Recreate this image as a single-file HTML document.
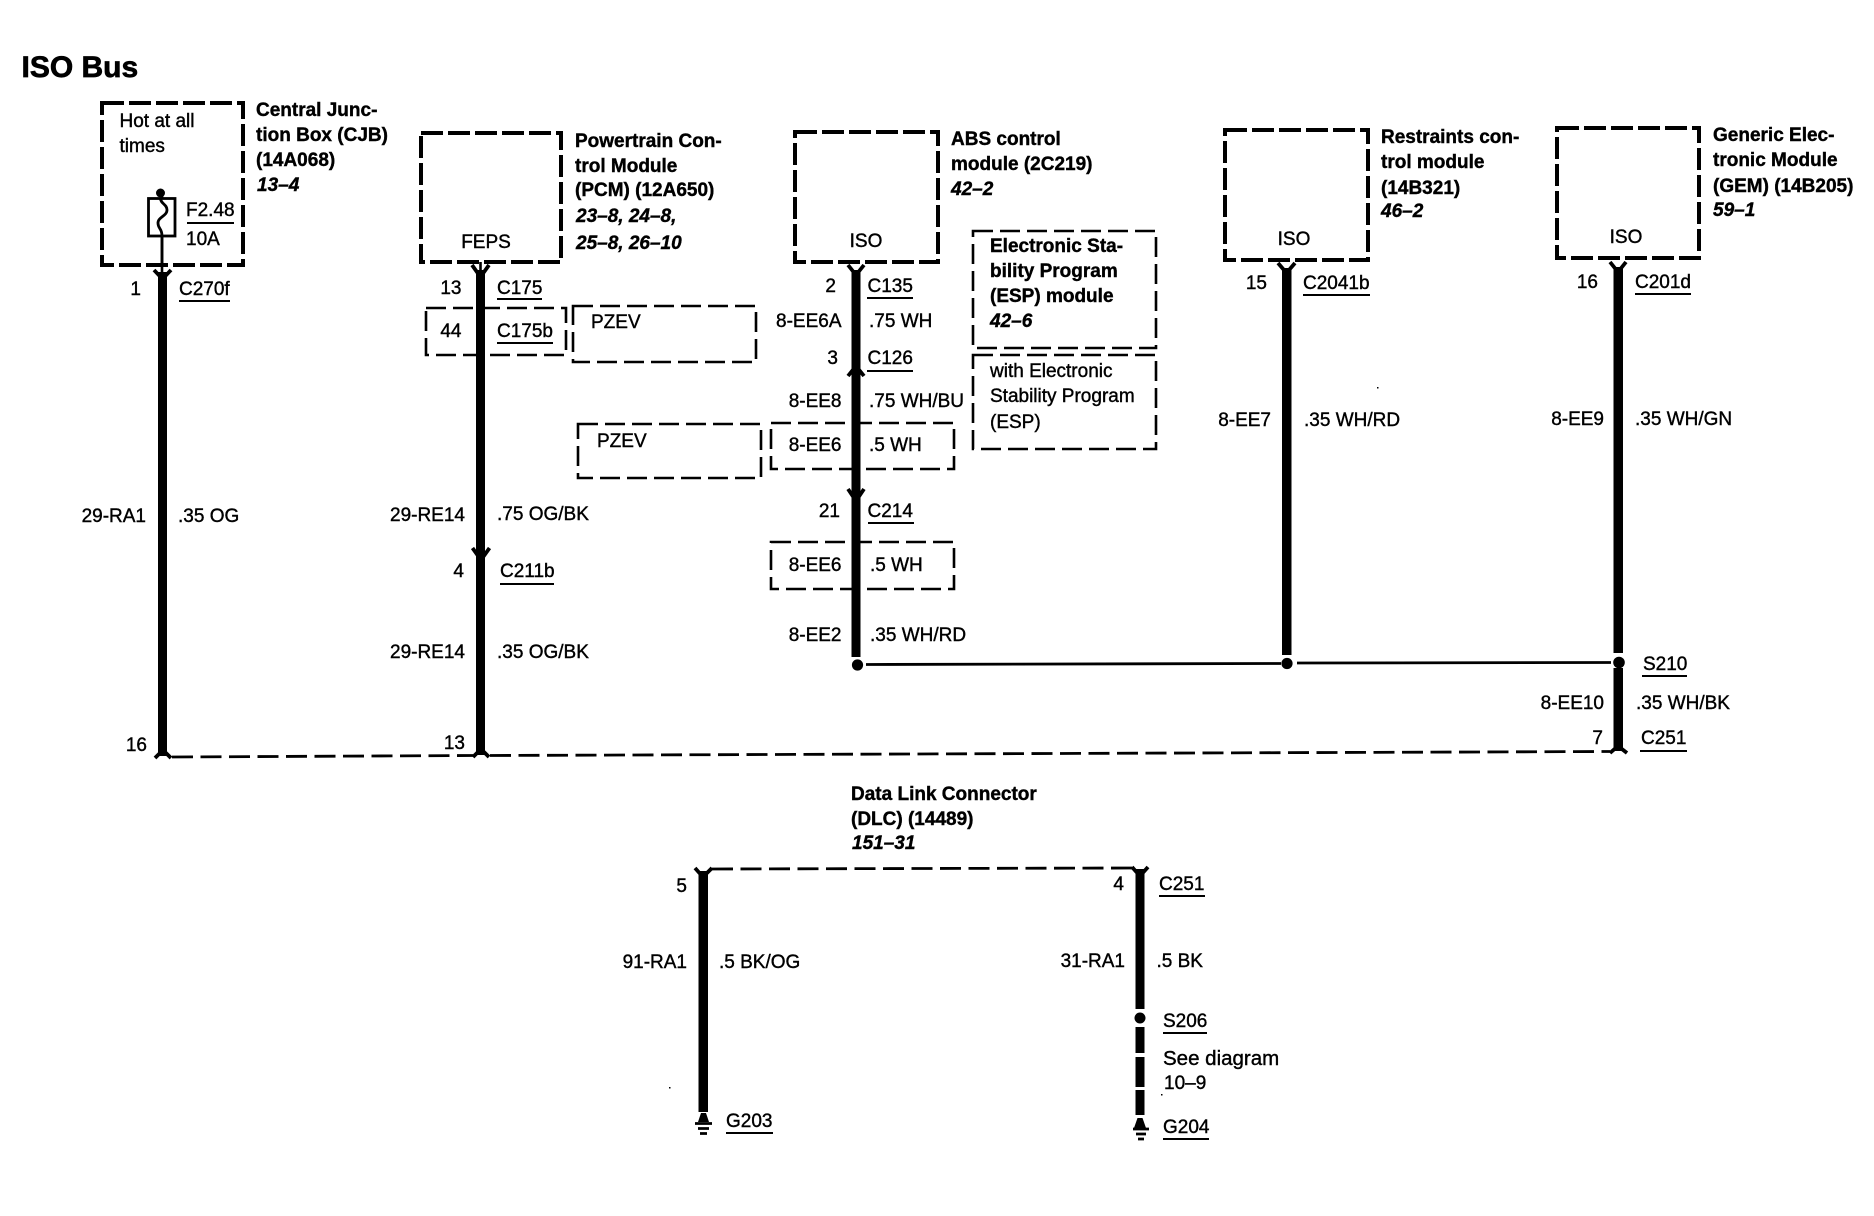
<!DOCTYPE html>
<html>
<head>
<meta charset="utf-8">
<title>ISO Bus</title>
<style>
html,body{margin:0;padding:0;background:#fff;width:1874px;height:1216px;overflow:hidden}
svg{display:block}
text{font-family:"Liberation Sans",sans-serif;fill:#000;stroke:#000;stroke-width:.4px}
.r{font-size:19px}
.b{font-size:19px;font-weight:bold}
.i{font-size:19px;font-weight:bold;font-style:italic}
.e{text-anchor:end}
.m{text-anchor:middle}
.t{font-size:30px;font-weight:bold;stroke-width:.7px}
.thick{fill:none;stroke:#000;stroke-width:4;stroke-dasharray:22 5}
.thin{fill:none;stroke:#000;stroke-width:2.6;stroke-dasharray:20 7}
.ul{stroke:#000;stroke-width:2;fill:none}
.ch{fill:none;stroke:#000;stroke-width:3.8}
</style>
</head>
<body>
<svg xmlns="http://www.w3.org/2000/svg" width="1874" height="1216" viewBox="0 0 1874 1216">
<rect width="1874" height="1216" fill="#fff"/>
<text class="t" x="21.5" y="77">ISO Bus</text>

<!-- module boxes -->
<rect class="thick" x="102" y="103" width="141" height="162"/>
<rect class="thick" x="421" y="133" width="140" height="129"/>
<rect class="thick" x="795" y="132" width="143" height="130"/>
<rect class="thick" x="1225" y="130" width="143" height="130"/>
<rect class="thick" x="1557" y="128" width="142" height="130"/>

<!-- option boxes -->
<rect class="thin" x="426" y="308" width="140" height="47"/>
<rect class="thin" x="573" y="306" width="183" height="56"/>
<rect class="thin" x="578" y="424" width="183" height="54"/>
<rect class="thin" x="771" y="423" width="183" height="46"/>
<rect class="thin" x="771" y="542" width="183" height="47"/>
<rect class="thin" x="973" y="231" width="183" height="117"/>
<rect class="thin" x="973" y="355" width="183" height="94"/>

<!-- wires -->
<rect x="158" y="272" width="9" height="484"/>
<rect x="476" y="270" width="9" height="485"/>
<rect x="851.500" y="270" width="9" height="387"/>
<rect x="1282" y="268" width="9.500" height="387"/>
<rect x="1613.500" y="267" width="9.500" height="386"/>
<rect x="1613.500" y="668" width="9.500" height="83"/>
<rect x="698.500" y="871" width="9.500" height="241"/>
<rect x="1135.500" y="869" width="9" height="140"/>
<rect x="1135.500" y="1027" width="9" height="26"/>
<rect x="1135.500" y="1057" width="9" height="30"/>
<rect x="1135.500" y="1090" width="9" height="25"/>

<!-- thin leads from boxes -->
<path class="ul" d="M162 193V272" style="stroke-width:2.6"/>
<path class="ul" d="M480.500 262V272" style="stroke-width:2.6"/>

<!-- chevrons -->
<path class="ch" d="M154 270L162.500 279L171 270"/>
<path class="ch" d="M472 265L480.500 277L489 265"/>
<path class="ch" d="M848 265L856 275L864 265"/>
<path class="ch" d="M1278 263L1286.500 273L1295 263"/>
<path class="ch" d="M1610 262L1618 272L1626 262"/>
<path class="ch" d="M472.500 548L481 560L489.500 548"/>
<path class="ch" d="M848 376L856 366L864 376"/>
<path class="ch" d="M848 489L856 501L864 489"/>
<path class="ch" d="M155 758L163 750L171 758"/>
<path class="ch" d="M473 757L481 749L489 757"/>
<path class="ch" d="M1610 753L1618 746L1627 753"/>
<path class="ch" d="M695 868L703 877L712 868"/>
<path class="ch" d="M1132 867L1140 876L1148 867"/>

<!-- bus lines -->
<path d="M172 757L473 755.500" fill="none" stroke="#000" stroke-width="2.800" stroke-dasharray="21 7.500"/>
<path d="M490 755.500L1610 751.500" fill="none" stroke="#000" stroke-width="2.800" stroke-dasharray="21 7.500"/>
<path d="M712 869L1132 868" fill="none" stroke="#000" stroke-width="2.800" stroke-dasharray="21 7.500"/>
<path d="M866 664.500L1281 663.500" fill="none" stroke="#000" stroke-width="2.800"/>
<path d="M1297 663L1611 662.500" fill="none" stroke="#000" stroke-width="2.800"/>

<!-- splices -->
<circle cx="857.500" cy="665" r="5.600"/>
<circle cx="1287" cy="663.500" r="5.600"/>
<circle cx="1619" cy="662.500" r="5.800"/>
<circle cx="1140" cy="1018" r="5.500"/>

<!-- fuse -->
<circle cx="160.500" cy="193" r="4.500"/>
<rect x="148.500" y="198.500" width="26.500" height="37.500" fill="#fff" stroke="#000" stroke-width="2.800"/>
<path d="M160.500 198C160.500 204 167 204 167 210C167 216 158 217 158 223C158 229 162 228 162 236V266" fill="none" stroke="#000" stroke-width="2.800"/>
<path class="ul" d="M187 223H234"/>

<!-- grounds -->
<path d="M698 1122L701 1113H706L709 1122Z"/>
<path d="M695 1123.500H712M698 1128.500H709M700 1133.500H707" stroke="#000" stroke-width="2.800" fill="none"/>
<path d="M1134 1128L1137.500 1118H1142.500L1146 1128Z"/>
<path d="M1133 1129H1149M1136 1134H1146M1138 1139H1144" stroke="#000" stroke-width="2.800" fill="none"/>

<!-- specks -->
<rect x="1377" y="387" width="1.500" height="1.500"/>
<rect x="669" y="1087" width="1.500" height="1.500"/>
<rect x="1161" y="1094" width="1.500" height="1.500"/>

<!-- CJB -->
<text class="r" x="119.500" y="127">Hot at all</text>
<text class="r" x="119.500" y="152">times</text>
<text class="r" x="186" y="216">F2.48</text>
<text class="r" x="186" y="245">10A</text>
<text class="b" x="256" y="116">Central Junc-</text>
<text class="b" x="256" y="141">tion Box (CJB)</text>
<text class="b" x="256" y="166">(14A068)</text>
<text class="i" x="257" y="191">13–4</text>
<text class="r e" x="141" y="295">1</text>
<text class="r" x="179" y="295">C270f</text>
<path class="ul" d="M179 301H230"/>
<text class="r e" x="146" y="522">29-RA1</text>
<text class="r" x="178" y="522">.35 OG</text>
<text class="r e" x="147" y="751">16</text>

<!-- PCM -->
<text class="r m" x="486" y="248">FEPS</text>
<text class="b" x="575" y="147">Powertrain Con-</text>
<text class="b" x="575" y="172">trol Module</text>
<text class="b" x="575" y="196">(PCM) (12A650)</text>
<text class="i" x="576" y="222">23–8, 24–8,</text>
<text class="i" x="576" y="249">25–8, 26–10</text>
<text class="r e" x="461.500" y="294">13</text>
<text class="r" x="497" y="294">C175</text>
<path class="ul" d="M497 299H542"/>
<text class="r e" x="461.500" y="337">44</text>
<text class="r" x="497" y="337">C175b</text>
<path class="ul" d="M497 343H553"/>
<text class="r" x="591" y="328">PZEV</text>
<text class="r" x="597" y="447">PZEV</text>
<text class="r e" x="465" y="521">29-RE14</text>
<text class="r" x="497" y="520">.75 OG/BK</text>
<text class="r e" x="464" y="577">4</text>
<text class="r" x="500" y="577">C211b</text>
<path class="ul" d="M500 584H554"/>
<text class="r e" x="465" y="658">29-RE14</text>
<text class="r" x="497" y="658">.35 OG/BK</text>
<text class="r e" x="465" y="749">13</text>

<!-- ABS -->
<text class="r m" x="866" y="247">ISO</text>
<text class="b" x="951" y="145">ABS control</text>
<text class="b" x="951" y="170">module (2C219)</text>
<text class="i" x="951" y="195">42–2</text>
<text class="r e" x="836" y="292">2</text>
<text class="r" x="867.500" y="292">C135</text>
<path class="ul" d="M867 298H913"/>
<text class="r e" x="841.500" y="327">8-EE6A</text>
<text class="r" x="869" y="327">.75 WH</text>
<text class="r e" x="838" y="364">3</text>
<text class="r" x="867.500" y="364">C126</text>
<path class="ul" d="M867 371H913"/>
<text class="r e" x="841.500" y="407">8-EE8</text>
<text class="r" x="869" y="407">.75 WH/BU</text>
<text class="r e" x="841.500" y="451">8-EE6</text>
<text class="r" x="869" y="451">.5 WH</text>
<text class="r e" x="840" y="517">21</text>
<text class="r" x="867.500" y="517">C214</text>
<path class="ul" d="M868 523H914"/>
<text class="r e" x="841.500" y="571">8-EE6</text>
<text class="r" x="870" y="571">.5 WH</text>
<text class="r e" x="841.500" y="641">8-EE2</text>
<text class="r" x="870" y="641">.35 WH/RD</text>

<!-- ESP -->
<text class="b" x="990" y="252">Electronic Sta-</text>
<text class="b" x="990" y="277">bility Program</text>
<text class="b" x="990" y="302">(ESP) module</text>
<text class="i" x="990" y="327">42–6</text>
<text class="r" x="990" y="377">with Electronic</text>
<text class="r" x="990" y="402">Stability Program</text>
<text class="r" x="990" y="428">(ESP)</text>

<!-- Restraints -->
<text class="r m" x="1294" y="245">ISO</text>
<text class="b" x="1381" y="143">Restraints con-</text>
<text class="b" x="1381" y="168">trol module</text>
<text class="b" x="1381" y="194">(14B321)</text>
<text class="i" x="1381" y="217">46–2</text>
<text class="r e" x="1267" y="289">15</text>
<text class="r" x="1303" y="289">C2041b</text>
<path class="ul" d="M1303 295H1370"/>
<text class="r e" x="1271" y="426">8-EE7</text>
<text class="r" x="1304" y="426">.35 WH/RD</text>

<!-- GEM -->
<text class="r m" x="1626" y="243">ISO</text>
<text class="b" x="1713" y="141">Generic Elec-</text>
<text class="b" x="1713" y="166">tronic Module</text>
<text class="b" x="1713" y="192">(GEM) (14B205)</text>
<text class="i" x="1713" y="216">59–1</text>
<text class="r e" x="1598" y="288">16</text>
<text class="r" x="1635" y="288">C201d</text>
<path class="ul" d="M1635 294H1691"/>
<text class="r e" x="1604" y="425">8-EE9</text>
<text class="r" x="1635" y="425">.35 WH/GN</text>
<text class="r" x="1643" y="670">S210</text>
<path class="ul" d="M1642 676H1687"/>
<text class="r e" x="1604" y="709">8-EE10</text>
<text class="r" x="1636" y="709">.35 WH/BK</text>
<text class="r e" x="1603" y="744">7</text>
<text class="r" x="1641" y="744">C251</text>
<path class="ul" d="M1640 751H1687"/>

<!-- DLC -->
<text class="b" x="851" y="800">Data Link Connector</text>
<text class="b" x="851" y="825">(DLC) (14489)</text>
<text class="i" x="852" y="849">151–31</text>
<text class="r e" x="687" y="892">5</text>
<text class="r e" x="1124" y="890">4</text>
<text class="r" x="1159" y="890">C251</text>
<path class="ul" d="M1159 896H1205"/>
<text class="r e" x="687" y="968">91-RA1</text>
<text class="r" x="719" y="968">.5 BK/OG</text>
<text class="r e" x="1125" y="967">31-RA1</text>
<text class="r" x="1156.500" y="967">.5 BK</text>
<text class="r" x="1163" y="1027">S206</text>
<path class="ul" d="M1163 1033H1207"/>
<text class="r" x="1163" y="1065" style="font-size:20.500px">See diagram</text>
<text class="r" x="1164" y="1089">10–9</text>
<text class="r" x="726" y="1127">G203</text>
<path class="ul" d="M726 1133H773"/>
<text class="r" x="1163" y="1133">G204</text>
<path class="ul" d="M1163 1139H1209"/>
</svg>
</body>
</html>
